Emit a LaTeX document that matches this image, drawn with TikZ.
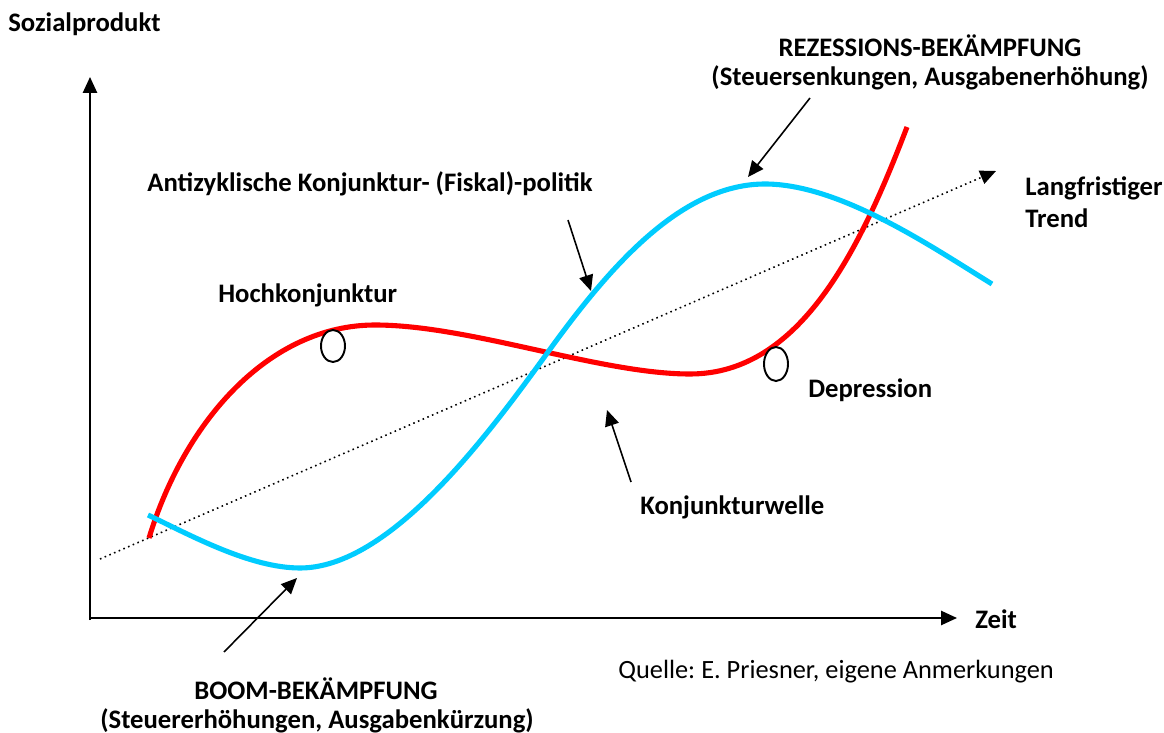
\documentclass[tikz,border=0pt]{standalone}
\usepackage{fontspec}
\setmainfont{Carlito}
\usetikzlibrary{arrows.meta}
\definecolor{wavered}{RGB}{255,0,0}
\definecolor{policyblue}{RGB}{0,204,255}
\frenchspacing
\begin{document}
\begin{tikzpicture}[x=0.02cm,y=-0.02cm,
  lbl/.style={font=\fontsize{15.2}{18}\selectfont\bfseries, inner sep=0pt},
  src/.style={font=\fontsize{15}{18}\selectfont, inner sep=0pt},
  axis/.style={line width=1.1pt, -{Triangle[length=9pt,width=8pt]}},
  pointer/.style={line width=0.9pt, -{Triangle[length=9pt,width=8pt]}},
  trend/.style={line width=0.9pt, dotted, -{Triangle[length=9pt,width=8pt]}},
  wave/.style={line width=2.9pt},
  marker/.style={draw=black, fill=white, line width=1.1pt}]
\useasboundingbox (0,0) rectangle (1164,733);

% axes
\coordinate (origin) at (90,618);
\coordinate (ytip) at (90,77);
\coordinate (xtip) at (957,618);
\draw[axis] (90,620) -- (ytip);
\draw[axis] (origin) -- (xtip);

% long-term trend
\coordinate (trendstart) at (100,559);
\coordinate (trendtip) at (996,171);
\draw[trend] (trendstart) -- (trendtip);

% business cycle (red): boom peak, trough, steep recovery
\draw[wave, wavered] (149,538) .. controls (185,420) and (270,325) .. (375,325)
  .. controls (470,325) and (600,374) .. (690,374)
  .. controls (800,374) and (860,250) .. (907,127);

% counter-cyclical policy (blue)
\draw[wave, policyblue] (148,515) .. controls (190,535) and (250,568) .. (300,568)
  .. controls (390,568) and (488,435) .. (548,352)
  .. controls (608,269) and (680,184) .. (765,184)
  .. controls (840,184) and (932,247) .. (992,284);

% markers on the cycle
\draw[marker] (333,346) ellipse [x radius=12, y radius=16];
\draw[marker] (776,364) ellipse [x radius=12, y radius=17];

% pointer arrows
\coordinate (boomtail) at (224,652);
\coordinate (boomtip) at (297,578);
\coordinate (fisktail) at (568,220);
\coordinate (fisktip) at (591,291);
\coordinate (welletail) at (631,482);
\coordinate (welletip) at (607,410);
\coordinate (reztail) at (810,98);
\coordinate (reztip) at (748,177);
\draw[pointer] (boomtail) -- (boomtip);
\draw[pointer] (fisktail) -- (fisktip);
\draw[pointer] (welletail) -- (welletip);
\draw[pointer] (reztail) -- (reztip);

% labels
\node[lbl, anchor=base west] (ylabel) at (8,32) {Sozialprodukt};
\node[lbl, anchor=base west] (xlabel) at (975,628) {Zeit};
\node[lbl, anchor=base] (rez1) at (930,57) {REZESSIONS-BEKÄMPFUNG};
\node[lbl, anchor=base] (rez2) at (930,86) {(Steuersenkungen, Ausgabenerhöhung)};
\node[lbl, anchor=base west] (fiskal) at (147,192) {Antizyklische Konjunktur- (Fiskal)-politik};
\node[lbl, anchor=base west] (trend1) at (1025,196) {Langfristiger};
\node[lbl, anchor=base west] (trend2) at (1025,228) {Trend};
\node[lbl, anchor=base west] (hoch) at (218,303) {Hochkonjunktur};
\node[lbl, anchor=base west] (depr) at (808,398) {Depression};
\node[lbl, anchor=base west] (welle) at (640,514) {Konjunkturwelle};
\node[lbl, anchor=base] (boom1) at (316,699) {BOOM-BEKÄMPFUNG};
\node[lbl, anchor=base] (boom2) at (317,728) {(Steuererhöhungen, Ausgabenkürzung)};
\node[src, anchor=base west] (quelle) at (618,678) {Quelle: E. Priesner, eigene Anmerkungen};
\end{tikzpicture}
\end{document}
